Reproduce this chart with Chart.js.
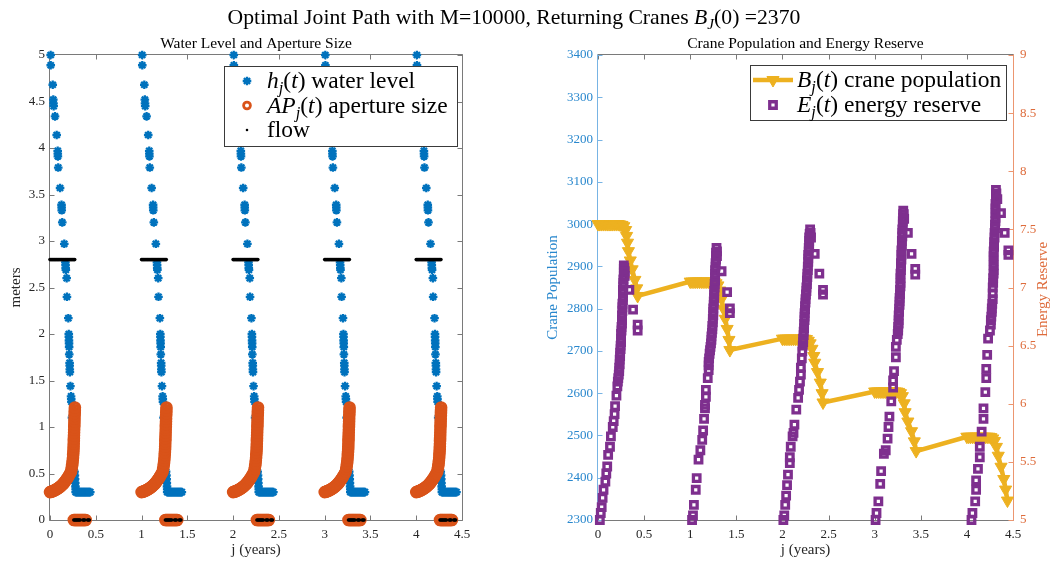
<!DOCTYPE html>
<html lang="en">
<head>
<meta charset="utf-8">
<title>Optimal Joint Path</title>
<script src="https://cdn.jsdelivr.net/npm/chart.js@4.4.1/dist/chart.umd.min.js"></script>
<style>
  html, body { margin: 0; padding: 0; background: #fff; }
  body { position: relative; width: 1055px; height: 562px; overflow: hidden;
         font-family: "Liberation Serif", "Times New Roman", serif; }
  #suptitle { position: absolute; left: 0; top: 5px; width: 1028px; text-align: center;
              font-size: 21.7px; line-height: 24px; color: #000; white-space: nowrap; z-index: 2; }
  #suptitle sub { font-size: 0.7em; line-height: 0; vertical-align: -0.3em; }
  canvas { position: absolute; top: 0; }
  #waterChart { left: 0; }
  #craneChart { left: 527px; }
</style>
</head>
<body>
<div id="suptitle">Optimal Joint Path with M=10000, Returning Cranes <i>B</i><sub><i>J</i></sub>(0) =2370</div>
<canvas id="waterChart" width="527" height="562"></canvas>
<canvas id="craneChart" width="528" height="562"></canvas>
<script>
// ---------- data ----------
// every season starts at the beginning of year j
const seasonStarts = [0, 1, 2, 3, 4];

// water level h_j(t) within one season (years since season start, meters)
const levelT = [0.007, 0.008, 0.030, 0.036, 0.038, 0.040, 0.055, 0.073, 0.084, 0.085, 0.086, 0.090,
  0.110, 0.126, 0.127, 0.128, 0.134, 0.156, 0.168, 0.170, 0.171, 0.173, 0.182, 0.185, 0.200, 0.205,
  0.206, 0.207, 0.208, 0.209, 0.210, 0.214, 0.215, 0.216, 0.217, 0.223, 0.230, 0.232, 0.234, 0.240,
  0.250, 0.260, 0.268, 0.272, 0.274, 0.276, 0.278, 0.280, 0.280, 0.290, 0.300, 0.310, 0.320, 0.330,
  0.340, 0.350, 0.360, 0.370, 0.380, 0.390, 0.400, 0.410, 0.420, 0.430, 0.440];
const levelH = [5.00, 4.89, 4.68, 4.52, 4.48, 4.45, 4.34, 4.14, 3.97, 3.94, 3.91, 3.79,
  3.57, 3.39, 3.36, 3.33, 3.20, 2.97, 2.77, 2.74, 2.71, 2.69, 2.60, 2.40, 2.17, 2.00,
  1.97, 1.93, 1.90, 1.86, 1.78, 1.69, 1.66, 1.62, 1.59, 1.44, 1.33, 1.30, 1.27, 1.10,
  0.85, 0.65, 0.52, 0.48, 0.44, 0.40, 0.36, 0.33, 0.30, 0.30, 0.30, 0.30, 0.30, 0.30,
  0.30, 0.30, 0.30, 0.30, 0.30, 0.30, 0.30, 0.30, 0.30, 0.30, 0.30];

// aperture size AP_j(t) within one season
const apertureT = [0.00, 0.01, 0.02, 0.03, 0.04, 0.05, 0.06, 0.07, 0.08, 0.09, 0.10, 0.11, 0.12,
  0.13, 0.14, 0.15, 0.16, 0.17, 0.18, 0.19, 0.20, 0.21, 0.22, 0.23,
  0.236, 0.241, 0.245, 0.248, 0.251, 0.253, 0.255, 0.257, 0.258, 0.259, 0.260, 0.261, 0.262,
  0.263, 0.264, 0.265, 0.266, 0.267, 0.268, 0.269, 0.270, 0.271, 0.272,
  0.26, 0.27, 0.28, 0.29, 0.30, 0.31, 0.32, 0.33, 0.34, 0.35, 0.36, 0.37, 0.38, 0.39];
const apertureSize = [0.300, 0.303, 0.307, 0.311, 0.315, 0.320, 0.325, 0.330, 0.336, 0.343, 0.350,
  0.358, 0.366, 0.375, 0.385, 0.396, 0.408, 0.421, 0.435, 0.450, 0.466, 0.483, 0.501, 0.520,
  0.55, 0.58, 0.61, 0.64, 0.67, 0.70, 0.73, 0.76, 0.79, 0.82, 0.85, 0.88, 0.91,
  0.94, 0.97, 1.00, 1.03, 1.06, 1.09, 1.12, 1.15, 1.18, 1.21,
  0, 0, 0, 0, 0, 0, 0, 0, 0, 0, 0, 0, 0, 0];

// flow within one season
const flowT = [0.00, 0.01, 0.02, 0.03, 0.04, 0.05, 0.06, 0.07, 0.08, 0.09, 0.10, 0.11, 0.12, 0.13,
  0.14, 0.15, 0.16, 0.17, 0.18, 0.19, 0.20, 0.21, 0.22, 0.23, 0.24, 0.25, 0.26, 0.27,
  0.26, 0.27, 0.28, 0.29, 0.30, 0.31, 0.32, 0.33, 0.36, 0.37, 0.38, 0.41, 0.42, 0.43];
const flowRate = [2.8, 2.8, 2.8, 2.8, 2.8, 2.8, 2.8, 2.8, 2.8, 2.8, 2.8, 2.8, 2.8, 2.8,
  2.8, 2.8, 2.8, 2.8, 2.8, 2.8, 2.8, 2.8, 2.8, 2.8, 2.8, 2.8, 2.8, 2.8,
  0, 0, 0, 0, 0, 0, 0, 0, 0, 0, 0, 0, 0, 0];

// crane population B_j(t): [years, cranes]
const craneSeason0 = [[0.00, 3000], [0.02, 3000], [0.04, 3000], [0.06, 3000], [0.08, 3000], [0.10, 3000],
  [0.12, 3000], [0.14, 3000], [0.16, 3000], [0.18, 3000], [0.20, 3000], [0.22, 3000], [0.24, 2999],
  [0.26, 2998], [0.28, 2995], [0.30, 2986], [0.31, 2972], [0.32, 2956], [0.33, 2936], [0.35, 2914],
  [0.37, 2893], [0.40, 2868], [0.42, 2848], [0.43, 2830]];
const craneSeason1 = [[1.00, 2864], [1.02, 2864], [1.04, 2864], [1.06, 2864], [1.08, 2864], [1.10, 2864],
  [1.12, 2864], [1.14, 2864], [1.16, 2864], [1.18, 2864], [1.20, 2864], [1.22, 2864], [1.24, 2864],
  [1.26, 2863], [1.28, 2860], [1.30, 2855], [1.32, 2843], [1.34, 2823], [1.36, 2800], [1.38, 2776],
  [1.40, 2752], [1.42, 2726], [1.43, 2702]];
const craneSeason2 = [[2.00, 2729], [2.02, 2729], [2.04, 2729], [2.06, 2729], [2.08, 2729], [2.10, 2729],
  [2.12, 2729], [2.14, 2729], [2.16, 2729], [2.18, 2729], [2.20, 2729], [2.22, 2729], [2.24, 2729],
  [2.26, 2728], [2.28, 2724], [2.30, 2718], [2.32, 2705], [2.34, 2688], [2.35, 2672], [2.38, 2650],
  [2.41, 2625], [2.43, 2600], [2.44, 2578]];
const craneSeason3 = [[3.00, 2604], [3.02, 2604], [3.04, 2604], [3.06, 2604], [3.08, 2604], [3.10, 2604],
  [3.12, 2604], [3.14, 2604], [3.16, 2604], [3.18, 2604], [3.20, 2604], [3.22, 2604], [3.24, 2604],
  [3.26, 2603], [3.28, 2600], [3.30, 2593], [3.32, 2576], [3.33, 2555], [3.36, 2533], [3.40, 2510],
  [3.43, 2486], [3.45, 2463]];
const craneSeason4 = [[4.00, 2497], [4.02, 2497], [4.04, 2497], [4.06, 2497], [4.08, 2497], [4.10, 2497],
  [4.12, 2497], [4.14, 2497], [4.16, 2497], [4.18, 2497], [4.20, 2497], [4.22, 2497], [4.24, 2497],
  [4.26, 2496], [4.28, 2493], [4.30, 2487], [4.32, 2473], [4.34, 2452], [4.37, 2426], [4.40, 2397],
  [4.42, 2372], [4.44, 2346]];

// energy reserve E_j(t): [years, reserve]
const energySeason0 = [[0.02, 5.00], [0.03, 5.06], [0.04, 5.11], [0.05, 5.19], [0.06, 5.26], [0.08, 5.33],
  [0.09, 5.40], [0.10, 5.46], [0.11, 5.56], [0.13, 5.63], [0.14, 5.72], [0.16, 5.80], [0.17, 5.85],
  [0.18, 5.91], [0.185, 5.98], [0.20, 6.07], [0.21, 6.15],
  [0.215, 6.19], [0.22, 6.22], [0.225, 6.25], [0.23, 6.28], [0.23, 6.31], [0.235, 6.34], [0.235, 6.38],
  [0.24, 6.41], [0.24, 6.44], [0.245, 6.47], [0.245, 6.50], [0.25, 6.53], [0.25, 6.56], [0.25, 6.60],
  [0.255, 6.63], [0.255, 6.66], [0.26, 6.69], [0.26, 6.72], [0.26, 6.76], [0.265, 6.80], [0.265, 6.83],
  [0.265, 6.86], [0.27, 6.89], [0.27, 6.92], [0.27, 6.95], [0.27, 6.98], [0.275, 7.01], [0.275, 7.04],
  [0.275, 7.07], [0.28, 7.10], [0.28, 7.13], [0.28, 7.16], [0.28, 7.19], [0.285, 7.17], [0.29, 7.14],
  [0.29, 7.10],
  [0.34, 6.98], [0.38, 6.81], [0.43, 6.68], [0.43, 6.63]];
const energySeason1 = [[1.02, 5.00], [1.03, 5.04], [1.04, 5.13], [1.06, 5.26], [1.07, 5.36], [1.09, 5.52],
  [1.11, 5.60], [1.13, 5.69], [1.14, 5.77], [1.15, 5.87], [1.16, 5.96], [1.16, 5.99], [1.17, 6.06],
  [1.17, 6.12], [1.19, 6.22], [1.20, 6.29], [1.20, 6.33],
  [1.20, 6.36], [1.205, 6.39], [1.21, 6.43], [1.215, 6.46], [1.22, 6.49], [1.225, 6.52], [1.23, 6.55],
  [1.23, 6.58], [1.235, 6.61], [1.24, 6.64], [1.24, 6.67], [1.245, 6.70], [1.245, 6.73], [1.25, 6.76],
  [1.25, 6.79], [1.25, 6.82], [1.255, 6.85], [1.255, 6.88], [1.26, 6.91], [1.26, 6.94], [1.26, 6.97],
  [1.265, 7.00], [1.265, 7.03], [1.27, 7.06], [1.27, 7.09], [1.27, 7.12], [1.27, 7.15], [1.275, 7.18],
  [1.275, 7.21], [1.28, 7.24], [1.28, 7.27], [1.28, 7.30], [1.285, 7.34], [1.29, 7.31], [1.29, 7.27],
  [1.34, 7.14], [1.40, 6.96], [1.43, 6.82], [1.43, 6.78]];
const energySeason2 = [[2.01, 5.00], [2.02, 5.04], [2.03, 5.13], [2.04, 5.21], [2.05, 5.30], [2.06, 5.39],
  [2.08, 5.49], [2.08, 5.54], [2.09, 5.63], [2.11, 5.72], [2.12, 5.75], [2.13, 5.82], [2.15, 5.95],
  [2.17, 6.05], [2.18, 6.12], [2.19, 6.19], [2.20, 6.25], [2.20, 6.31], [2.21, 6.39], [2.215, 6.45],
  [2.22, 6.50], [2.225, 6.53], [2.225, 6.56], [2.23, 6.59], [2.23, 6.62], [2.235, 6.65], [2.235, 6.69],
  [2.24, 6.72], [2.24, 6.75], [2.24, 6.78], [2.245, 6.81], [2.245, 6.84], [2.25, 6.87], [2.25, 6.90],
  [2.255, 6.94], [2.26, 6.97], [2.26, 7.00], [2.265, 7.03], [2.265, 7.06], [2.27, 7.09], [2.27, 7.12],
  [2.275, 7.15], [2.275, 7.18], [2.28, 7.22], [2.28, 7.25], [2.28, 7.28], [2.285, 7.31], [2.285, 7.34],
  [2.29, 7.37], [2.29, 7.40], [2.29, 7.43], [2.295, 7.46], [2.30, 7.50], [2.305, 7.47], [2.31, 7.43],
  [2.35, 7.29], [2.40, 7.12], [2.44, 6.98], [2.44, 6.94]];
const energySeason3 = [[3.01, 5.00], [3.02, 5.06], [3.04, 5.16], [3.06, 5.31], [3.07, 5.42], [3.10, 5.57],
  [3.12, 5.60], [3.14, 5.70], [3.15, 5.80], [3.16, 5.89], [3.18, 6.02], [3.20, 6.14], [3.20, 6.20],
  [3.21, 6.28], [3.23, 6.40], [3.23, 6.49], [3.24, 6.55],
  [3.25, 6.60], [3.255, 6.63], [3.255, 6.66], [3.26, 6.69], [3.26, 6.72], [3.26, 6.76], [3.265, 6.79],
  [3.265, 6.82], [3.27, 6.85], [3.27, 6.88], [3.27, 6.91], [3.275, 6.94], [3.275, 6.98], [3.28, 7.01],
  [3.28, 7.04], [3.28, 7.08], [3.28, 7.12], [3.285, 7.15], [3.285, 7.18], [3.285, 7.21], [3.29, 7.24],
  [3.29, 7.28], [3.29, 7.32], [3.295, 7.36], [3.295, 7.40], [3.30, 7.44], [3.30, 7.47], [3.30, 7.50],
  [3.305, 7.54], [3.305, 7.57], [3.31, 7.60], [3.31, 7.63], [3.31, 7.66], [3.315, 7.63], [3.32, 7.59],
  [3.36, 7.47], [3.40, 7.29], [3.44, 7.16], [3.44, 7.11]];
const energySeason4 = [[4.05, 5.00], [4.06, 5.06], [4.09, 5.16], [4.10, 5.26], [4.10, 5.34], [4.12, 5.44],
  [4.14, 5.54], [4.14, 5.63], [4.16, 5.76], [4.18, 5.87], [4.18, 5.96], [4.20, 6.10], [4.21, 6.22],
  [4.21, 6.30], [4.22, 6.42], [4.23, 6.56], [4.25, 6.63],
  [4.26, 6.68], [4.26, 6.72], [4.265, 6.75], [4.27, 6.79], [4.27, 6.82], [4.275, 6.86], [4.28, 6.90],
  [4.28, 6.95], [4.28, 7.00], [4.285, 7.04], [4.285, 7.08], [4.29, 7.12], [4.29, 7.15], [4.29, 7.19],
  [4.29, 7.23], [4.29, 7.27], [4.29, 7.31], [4.295, 7.35], [4.295, 7.39], [4.30, 7.43], [4.30, 7.47],
  [4.305, 7.51], [4.305, 7.54], [4.31, 7.57], [4.31, 7.60], [4.31, 7.64], [4.31, 7.68], [4.31, 7.72],
  [4.315, 7.76], [4.315, 7.80], [4.315, 7.84], [4.32, 7.81], [4.33, 7.76],
  [4.37, 7.64], [4.41, 7.47], [4.45, 7.32], [4.45, 7.28]];

// tick labels
const yearTicks = [0, 0.5, 1, 1.5, 2, 2.5, 3, 3.5, 4, 4.5];
const meterTicks = [0, 0.5, 1, 1.5, 2, 2.5, 3, 3.5, 4, 4.5, 5];
const craneTicks = [2300, 2400, 2500, 2600, 2700, 2800, 2900, 3000, 3100, 3200, 3300, 3400];
const energyTicks = [5, 5.5, 6, 6.5, 7, 7.5, 8, 8.5, 9];

// ---------- styling ----------
const FONT = '"Liberation Serif", "Times New Roman", serif';
const BLUE = '#0072BD';
const ORANGE = '#D95319';
const YELLOW = '#EDB120';
const PURPLE = '#7E2F8E';
const AXIS_GRAY = '#7a7a7a';
const TEXT = '#262626';
const LEFT_AXIS_TEXT = 'rgb(40,135,205)';
const LEFT_AXIS_LINE = 'rgb(120,180,228)';
const RIGHT_AXIS_TEXT = 'rgb(222,108,60)';
const RIGHT_AXIS_LINE = 'rgb(236,150,112)';

const blueStar = { pointStyle: 'star', radius: 4.3, borderWidth: 2.3, fill: BLUE, stroke: BLUE };
const orangeRing = { pointStyle: 'circle', radius: 4.6, borderWidth: 3.4, fill: 'rgba(0,0,0,0)', stroke: ORANGE };
const orangeRingKey = { pointStyle: 'circle', radius: 3.4, borderWidth: 2.8, fill: 'rgba(0,0,0,0)', stroke: ORANGE };
const blackDot = { pointStyle: 'circle', radius: 1.8, borderWidth: 0, fill: '#000', stroke: '#000' };
const blackDotKey = { pointStyle: 'rect', radius: 1.6, borderWidth: 0, fill: '#000', stroke: '#000' };
const yellowTri = { pointStyle: 'triangle', rotation: 180, radius: 7, borderWidth: 1, fill: YELLOW, stroke: YELLOW };
const purpleSquare = { pointStyle: 'rect', radius: 4.6, borderWidth: 3.3, fill: 'rgba(0,0,0,0)', stroke: PURPLE };

function seasonPoints(ts, vs) {
  const pts = [];
  seasonStarts.forEach(s => ts.forEach((t, i) => pts.push({ x: s + t, y: vs[i] })));
  return pts;
}
function pairPoints(...seasons) {
  return seasons.flat().map(([x, y]) => ({ x, y }));
}
function markerProps(m) {
  return {
    pointStyle: m.pointStyle, pointRotation: m.rotation || 0, pointRadius: m.radius,
    pointBorderWidth: m.borderWidth, pointBackgroundColor: m.fill, pointBorderColor: m.stroke,
    pointHoverRadius: m.radius, clip: false
  };
}
function fixedTicks(values) {
  return scale => { scale.ticks = values.map(v => ({ value: v })); };
}
const crisp = v => Math.round(v) + 0.5;

// rich text: parts with italic / subscript runs
function drawRich(ctx, parts, x, y, size, color) {
  ctx.save();
  ctx.fillStyle = color;
  ctx.textAlign = 'left';
  ctx.textBaseline = 'alphabetic';
  for (const p of parts) {
    const s = p.sub ? size * 0.7 : size;
    ctx.font = (p.it ? 'italic ' : '') + s + 'px ' + FONT;
    ctx.fillText(p.t, x, y + (p.sub ? size * 0.22 : 0));
    x += ctx.measureText(p.t).width;
  }
  ctx.restore();
}
function drawMarker(ctx, m, x, y) {
  ctx.save();
  ctx.fillStyle = m.fill;
  ctx.strokeStyle = m.stroke;
  ctx.lineWidth = m.borderWidth;
  Chart.helpers.drawPoint(ctx, { pointStyle: m.pointStyle, radius: m.radius, rotation: m.rotation || 0, borderWidth: m.borderWidth }, x, y);
  ctx.restore();
}

// axes box with inward ticks, drawn under the data
const framePlugin = {
  id: 'frame',
  beforeDatasetsDraw(chart, _a, o) {
    const { ctx, chartArea: a, scales } = chart;
    const L = crisp(a.left) - 1, R = crisp(a.right), T = crisp(a.top) - 1, B = crisp(a.bottom);
    const seg = (x1, y1, x2, y2, c) => { ctx.strokeStyle = c; ctx.beginPath(); ctx.moveTo(x1, y1); ctx.lineTo(x2, y2); ctx.stroke(); };
    ctx.save();
    ctx.lineWidth = 1;
    seg(L, T, R, T, o.top);
    seg(L, B, R, B, o.bottom);
    scales.x.ticks.forEach(t => {
      const px = crisp(scales.x.getPixelForValue(t.value));
      seg(px, B, px, B - 5, o.bottom);
      seg(px, T, px, T + 5, o.top);
    });
    seg(L, T, L, B, o.left);
    seg(R, T, R, B, o.right);
    scales[o.leftScale].ticks.forEach(t => {
      const py = crisp(scales[o.leftScale].getPixelForValue(t.value));
      seg(L, py, L + 5, py, o.left);
    });
    scales[o.rightScale].ticks.forEach(t => {
      const py = crisp(scales[o.rightScale].getPixelForValue(t.value));
      seg(R, py, R - 5, py, o.right);
    });
    ctx.restore();
  }
};

// panel heading and an optional bottom-to-top label on the right side
const headingPlugin = {
  id: 'heading',
  afterDraw(chart, _a, o) {
    const { ctx, chartArea: a } = chart;
    ctx.save();
    ctx.fillStyle = '#000';
    ctx.font = '15.5px ' + FONT;
    ctx.textAlign = 'center';
    ctx.textBaseline = 'middle';
    ctx.fillText(o.text, (a.left + a.right) / 2, o.y);
    if (o.sideLabel) {
      ctx.font = '15px ' + FONT;
      ctx.translate(o.sideLabel.x, (a.top + a.bottom) / 2 + 2);
      ctx.rotate(-Math.PI / 2);
      ctx.fillStyle = o.sideLabel.color;
      ctx.fillText(o.sideLabel.text, 0, 0);
    }
    ctx.restore();
  }
};

// boxed legend with math-style labels
const richLegendPlugin = {
  id: 'richLegend',
  afterDatasetsDraw(chart, _a, o) {
    const { ctx } = chart;
    const b = o.box;
    ctx.save();
    ctx.fillStyle = '#fff';
    ctx.fillRect(b.x, b.y, b.w, b.h);
    ctx.strokeStyle = '#3a3a3a';
    ctx.lineWidth = 1;
    ctx.strokeRect(b.x + 0.5, b.y + 0.5, b.w, b.h);
    ctx.restore();
    o.items.forEach((it, i) => {
      const cy = b.y + o.firstRow + i * o.rowGap;
      if (it.line) {
        ctx.save();
        ctx.strokeStyle = it.line.color;
        ctx.lineWidth = it.line.width;
        ctx.beginPath();
        ctx.moveTo(o.markerX - 20, cy);
        ctx.lineTo(o.markerX + 20, cy);
        ctx.stroke();
        ctx.restore();
      }
      drawMarker(ctx, it.marker, o.markerX, cy);
      drawRich(ctx, it.parts, o.textX, cy + 7, o.size, '#000');
    });
  }
};

Chart.defaults.font.family = FONT;
Chart.defaults.animation = false;

const tickFont = { family: FONT, size: 13 };
const titleFont = { family: FONT, size: 15 };

// ---------- left panel: water level and aperture ----------
new Chart(document.getElementById('waterChart'), {
  type: 'scatter',
  data: {
    datasets: [
      { label: 'h_j(t) water level', data: seasonPoints(levelT, levelH), order: 3, ...markerProps(blueStar) },
      { label: 'AP_j(t) aperture size', data: seasonPoints(apertureT, apertureSize), order: 2, ...markerProps(orangeRing) },
      { label: 'flow', data: seasonPoints(flowT, flowRate), order: 1, ...markerProps(blackDot) }
    ]
  },
  options: {
    responsive: false,
    devicePixelRatio: 1,
    events: [],
    layout: { padding: { top: 55, right: 65, bottom: 0, left: 0 } },
    scales: {
      x: {
        type: 'linear', min: 0, max: 4.5,
        afterBuildTicks: fixedTicks(yearTicks),
        afterFit: s => { s.height = 42; },
        grid: { display: false, drawTicks: false },
        border: { display: false },
        ticks: { color: TEXT, font: tickFont, padding: 7, maxRotation: 0, autoSkip: false, callback: v => String(v) },
        title: { display: true, text: 'j (years)', color: TEXT, font: titleFont, padding: { top: 0, bottom: 3 } }
      },
      y: {
        type: 'linear', min: 0, max: 5,
        afterBuildTicks: fixedTicks(meterTicks),
        afterFit: s => { s.width = 50; },
        grid: { display: false, drawTicks: false },
        border: { display: false },
        ticks: { color: TEXT, font: tickFont, padding: 5, autoSkip: false, callback: v => String(v) },
        title: { display: true, text: 'meters', color: TEXT, font: titleFont, padding: { top: 7, bottom: 0 } }
      }
    },
    plugins: {
      legend: { display: false },
      tooltip: { enabled: false },
      frame: { top: AXIS_GRAY, bottom: AXIS_GRAY, left: AXIS_GRAY, right: AXIS_GRAY, leftScale: 'y', rightScale: 'y' },
      heading: { text: 'Water Level and Aperture Size', y: 44 },
      richLegend: {
        box: { x: 224, y: 66, w: 233, h: 80 },
        firstRow: 15, rowGap: 24.5, markerX: 247, textX: 267, size: 23.5,
        items: [
          { marker: blueStar, parts: [{ t: 'h', it: true }, { t: 'j', it: true, sub: true }, { t: '(' }, { t: 't', it: true }, { t: ') water level' }] },
          { marker: orangeRingKey, parts: [{ t: 'AP', it: true }, { t: 'j', it: true, sub: true }, { t: '(' }, { t: 't', it: true }, { t: ') aperture size' }] },
          { marker: blackDotKey, parts: [{ t: 'flow' }] }
        ]
      }
    }
  },
  plugins: [framePlugin, headingPlugin, richLegendPlugin]
});

// ---------- right panel: crane population and energy reserve ----------
new Chart(document.getElementById('craneChart'), {
  type: 'scatter',
  data: {
    datasets: [
      {
        label: 'B_j(t) crane population',
        data: pairPoints(craneSeason0, craneSeason1, craneSeason2, craneSeason3, craneSeason4),
        yAxisID: 'y', order: 2, showLine: true, borderColor: YELLOW, borderWidth: 4.5,
        ...markerProps(yellowTri)
      },
      {
        label: 'E_j(t) energy reserve',
        data: pairPoints(energySeason0, energySeason1, energySeason2, energySeason3, energySeason4),
        yAxisID: 'y2', order: 1, ...markerProps(purpleSquare)
      }
    ]
  },
  options: {
    responsive: false,
    devicePixelRatio: 1,
    events: [],
    layout: { padding: { top: 55, right: 0, bottom: 0, left: 0 } },
    scales: {
      x: {
        type: 'linear', min: 0, max: 4.5,
        afterBuildTicks: fixedTicks(yearTicks),
        afterFit: s => { s.height = 42; },
        grid: { display: false, drawTicks: false },
        border: { display: false },
        ticks: { color: TEXT, font: tickFont, padding: 7, maxRotation: 0, autoSkip: false, callback: v => String(v) },
        title: { display: true, text: 'j (years)', color: TEXT, font: titleFont, padding: { top: 0, bottom: 3 } }
      },
      y: {
        type: 'linear', position: 'left', min: 2300, max: 3400,
        afterBuildTicks: fixedTicks(craneTicks),
        afterFit: s => { s.width = 71; },
        grid: { display: false, drawTicks: false },
        border: { display: false },
        ticks: { color: LEFT_AXIS_TEXT, font: tickFont, padding: 5, autoSkip: false, callback: v => String(v) },
        title: { display: true, text: 'Crane Population', color: LEFT_AXIS_TEXT, font: titleFont, padding: { top: 17, bottom: 0 } }
      },
      y2: {
        type: 'linear', position: 'right', min: 5, max: 9,
        afterBuildTicks: fixedTicks(energyTicks),
        afterFit: s => { s.width = 42; },
        grid: { display: false, drawTicks: false },
        border: { display: false },
        ticks: { color: RIGHT_AXIS_TEXT, font: tickFont, padding: 7, autoSkip: false, callback: v => String(v) }
      }
    },
    plugins: {
      legend: { display: false },
      tooltip: { enabled: false },
      frame: { top: AXIS_GRAY, bottom: AXIS_GRAY, left: LEFT_AXIS_LINE, right: RIGHT_AXIS_LINE, leftScale: 'y', rightScale: 'y2' },
      heading: { text: 'Crane Population and Energy Reserve', y: 44, sideLabel: { text: 'Energy Reserve', x: 516, color: RIGHT_AXIS_TEXT } },
      richLegend: {
        box: { x: 223, y: 65, w: 256, h: 55 },
        firstRow: 15, rowGap: 25, markerX: 246, textX: 270, size: 23.5,
        items: [
          { marker: yellowTri, line: { color: YELLOW, width: 4.5 }, parts: [{ t: 'B', it: true }, { t: 'j', it: true, sub: true }, { t: '(' }, { t: 't', it: true }, { t: ') crane population' }] },
          { marker: purpleSquare, parts: [{ t: 'E', it: true }, { t: 'j', it: true, sub: true }, { t: '(' }, { t: 't', it: true }, { t: ') energy reserve' }] }
        ]
      }
    }
  },
  plugins: [framePlugin, headingPlugin, richLegendPlugin]
});
</script>
</body>
</html>
